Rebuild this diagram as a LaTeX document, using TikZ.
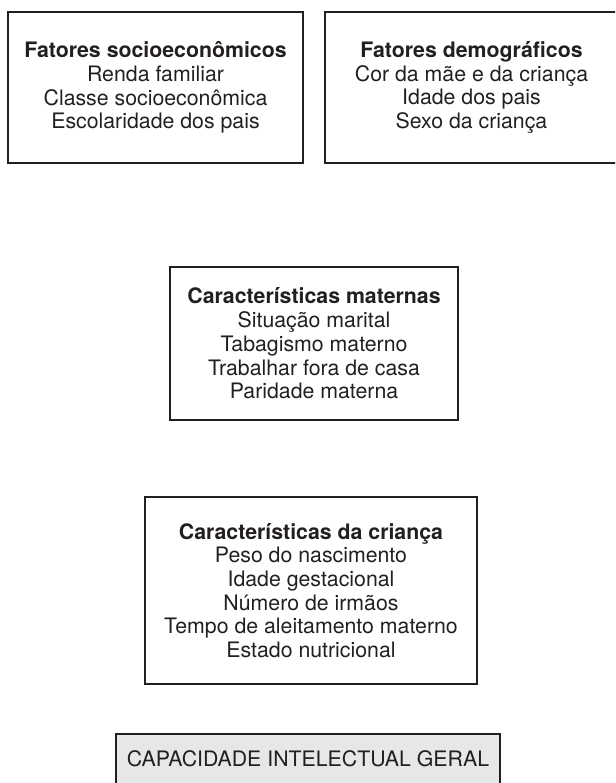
\documentclass[tikz,border=0pt]{standalone}
\usepackage{fontspec}
\setmainfont{TeX Gyre Heros}
\definecolor{ink}{HTML}{231F20}
\definecolor{capfill}{HTML}{E6E7E8}
\begin{document}
\begin{tikzpicture}[x=1pt,y=-1pt,
  box/.style={draw=ink, line width=2.2pt, text=ink, align=center,
    font=\fontsize{21.3}{23.7}\selectfont, inner sep=0pt},
  capbox/.style={draw=ink, fill=capfill, line width=2.2pt, text=ink,
    font=\fontsize{21.3}{23.7}\selectfont, inner xsep=0pt, inner ysep=16.3pt,
    text height=15.7pt, text depth=40pt}]
\useasboundingbox (0,0) rectangle (615,783);
\clip (0,0) rectangle (615,783);
\node[box, minimum width=295pt, minimum height=151pt] (socio) at (155.5,87.5)
  {\textbf{Fatores socioeconômicos}\\Renda familiar\\Classe socioeconômica\\Escolaridade dos pais};
\node[box, minimum width=293pt, minimum height=151pt] (demo) at (471.5,87.5)
  {\textbf{Fatores demográficos}\\Cor da mãe e da criança\\Idade dos pais\\Sexo da criança};
\node[box, minimum width=288pt, minimum height=153pt] (mat) at (314,343.5)
  {\textbf{Características maternas}\\Situação marital\\Tabagismo materno\\Trabalhar fora de casa\\Paridade materna};
\node[box, minimum width=332pt, minimum height=187pt] (cri) at (311,590.5)
  {\textbf{Características da criança}\\Peso do nascimento\\Idade gestacional\\Número de irmãos\\Tempo de aleitamento materno\\Estado nutricional};
\node[capbox, minimum width=384pt, anchor=north] (cap) at (308,733)
  {CAPACIDADE INTELECTUAL GERAL};
\end{tikzpicture}
\end{document}
